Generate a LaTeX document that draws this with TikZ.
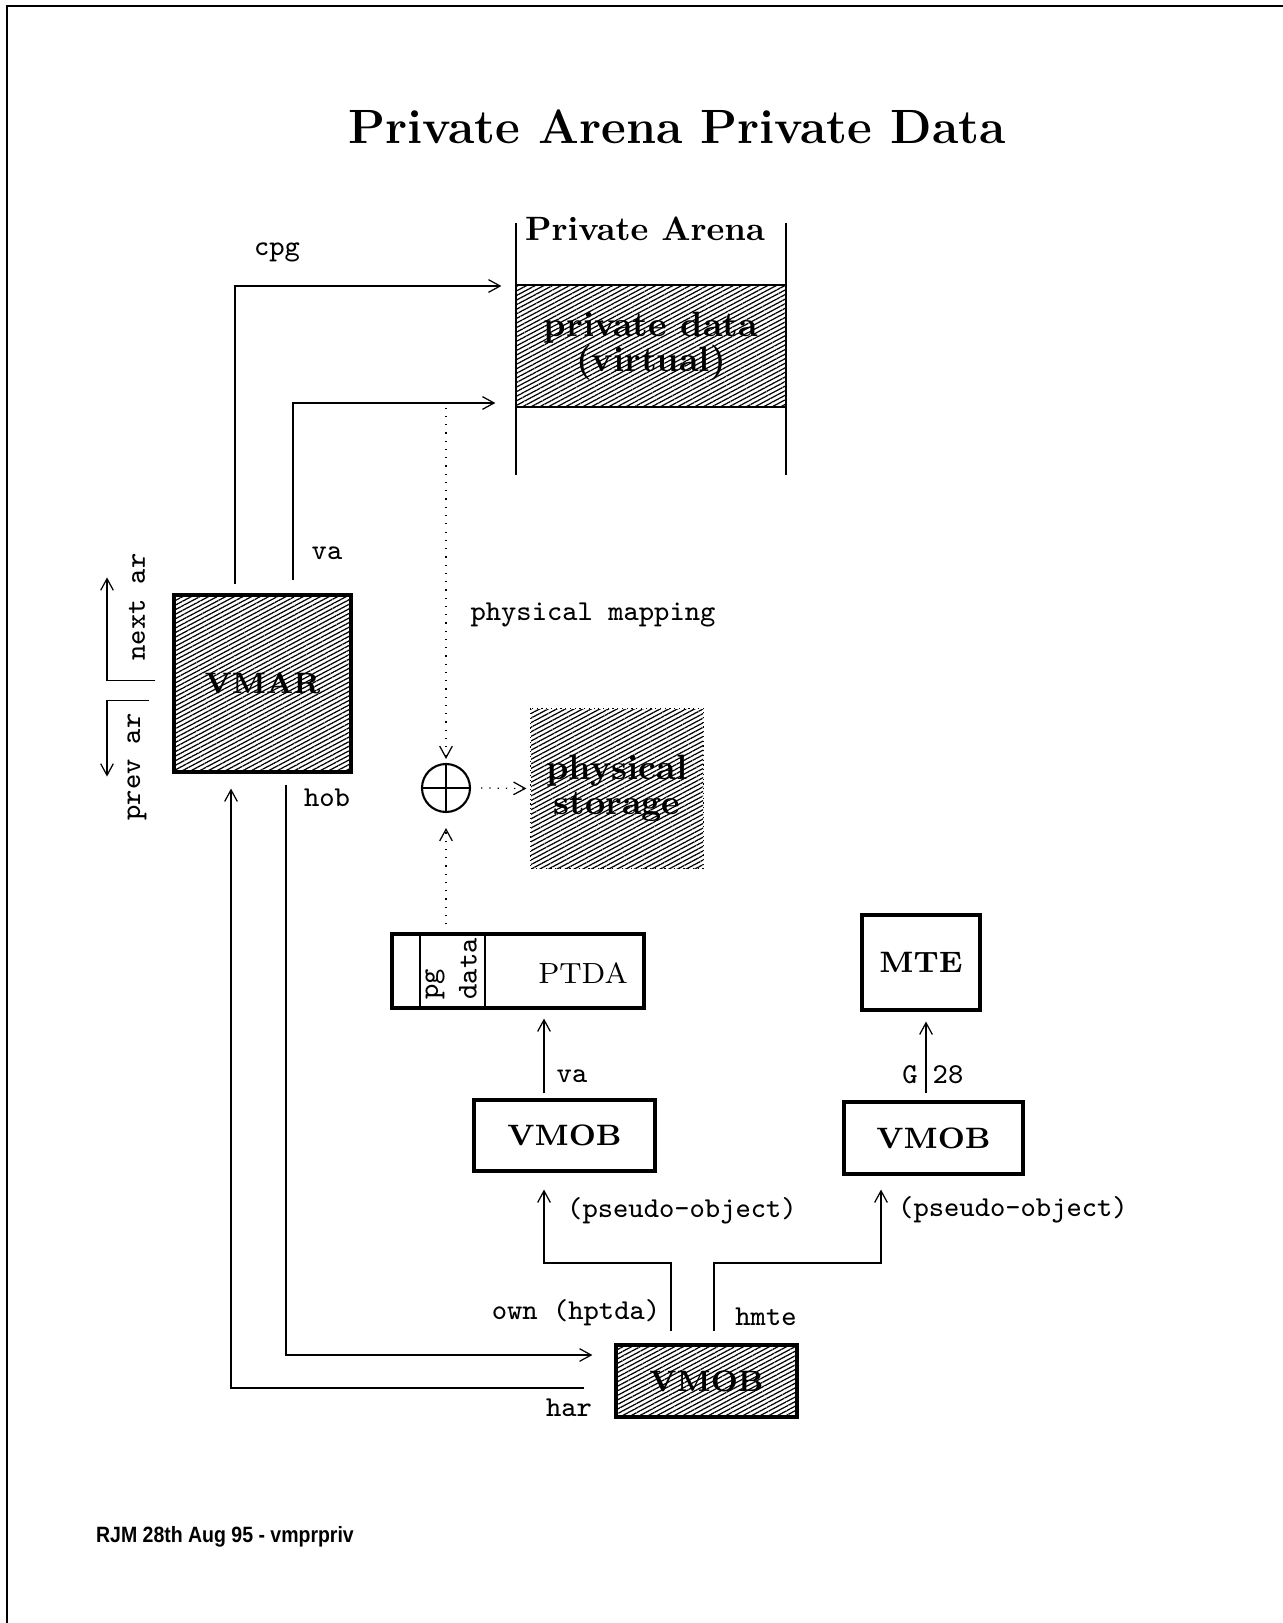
\documentclass[tikz,border=0pt]{standalone}
\usepackage{fontspec}
\newfontfamily\footfont{Liberation Sans}
\usetikzlibrary{arrows.meta,patterns.meta,calc}

\begin{document}
\begin{tikzpicture}[line width=0.35pt,>={Straight Barb[length=3.3pt,width=3.6pt]},
  box/.style={draw,line width=0.9pt,inner sep=0pt,font=\bfseries\fontsize{8.4}{10}\selectfont},
  hatch/.style={pattern={Lines[angle=28,distance=1.15pt,line width=0.35pt]}},
  lbl/.style={font=\ttfamily\fontsize{8.2}{10}\selectfont,inner sep=0pt},
  dots/.style={dotted}]
  \useasboundingbox (0,0) rectangle (12.83,-16.23);
  \draw[line width=0.6pt] (12.83,-0.06) -- (0.07,-0.06) -- (0.07,-16.23);
  \node[font=\bfseries\fontsize{13.7}{16}\selectfont] (title) at (6.77,-1.27) {Private Arena Private Data};
  % arena column
  \draw[line width=0.6pt] (5.16,-2.23) -- (5.16,-4.75) (7.86,-2.23) -- (7.86,-4.75);
  \node[font=\bfseries\fontsize{9.6}{11}\selectfont] (arena) at (6.45,-2.29) {Private Arena};
  \node[hatch,draw,minimum width=2.70cm,minimum height=1.22cm,inner sep=0pt,align=center,
    font=\bfseries\fontsize{10}{10}\selectfont] (band) at (6.51,-3.46) {private data\\(virtual)};
  % boxes
  \node[box,hatch,minimum size=1.77cm] (vmar) at (2.625,-6.835) {VMAR};
  \node[hatch,minimum width=1.72cm,minimum height=1.59cm,inner sep=0pt,align=center,
    font=\bfseries\fontsize{10}{9.8}\selectfont] (phys) at (6.17,-7.885) {physical\\storage};
  \draw[densely dotted] (phys.north west) rectangle (phys.south east);
  \node[draw,circle,minimum size=0.48cm,inner sep=0pt,line width=0.6pt] (oplus) at (4.46,-7.88) {};
  \draw (oplus.north) -- (oplus.south) (oplus.west) -- (oplus.east);
  \node[draw,line width=0.9pt,minimum width=2.52cm,minimum height=0.74cm] (ptda) at (5.18,-9.71) {};
  \node[font=\fontsize{8.3}{10}\selectfont] (ptdaname) at (5.83,-9.73) {PTDA};
  \draw[line width=0.6pt] ([xshift=0.30cm]ptda.north west) -- ([xshift=0.30cm]ptda.south west)
    ([xshift=0.95cm]ptda.north west) -- ([xshift=0.95cm]ptda.south west);
  \node[lbl,rotate=90,anchor=west] (pg) at (4.35,-10.0) {pg};
  \node[lbl,rotate=90,anchor=west] (pgdata) at (4.68,-10.0) {data};
  \node[box,minimum width=1.18cm,minimum height=0.95cm] (mte) at (9.21,-9.625) {MTE};
  \node[box,minimum width=1.79cm,minimum height=0.72cm] (vmobB) at (9.335,-11.38) {VMOB};
  \node[box,minimum width=1.81cm,minimum height=0.71cm] (vmobA) at (5.645,-11.355) {VMOB};
  \node[box,hatch,minimum width=1.81cm,minimum height=0.72cm] (vmobH) at (7.065,-13.81) {VMOB};
  % x positions of the links
  \coordinate (cpgx) at (2.35,-2.86);
  \coordinate (vax) at (2.93,-4.03);
  \coordinate (lnk) at (1.07,-6.91);
  \coordinate (hobx) at (2.86,-13.55);
  \coordinate (harx) at (2.31,-13.88);
  \coordinate (ptx) at (5.44,-10.5);
  \coordinate (gx) at (9.26,-10.5);
  \coordinate (ownx) at (6.71,-12.63);
  \coordinate (hmtex) at (7.14,-12.63);
  \coordinate (psx) at (8.81,-11.88);
  % vmar links
  \draw[->] ([yshift=0.09cm]vmar.north -| cpgx) |- ([xshift=-0.14cm]band.west |- cpgx);
  \draw[->] ([yshift=0.13cm]vmar.north -| vax) |- ([xshift=-0.20cm]band.west |- vax);
  \draw[->] ([xshift=-0.17cm,yshift=0.03cm]vmar.west) -| ([yshift=0.16cm]vmar.north -| lnk);
  \draw[->] ([xshift=-0.23cm,yshift=-0.17cm]vmar.west) -| ([yshift=-0.03cm]vmar.south -| lnk);
  \draw[->] ([yshift=-0.11cm]vmar.south -| hobx) |- ([xshift=-0.22cm]vmobH.west |- hobx);
  \draw[->] ([xshift=-0.30cm]vmobH.west |- harx) -| ([yshift=-0.15cm]vmar.south -| harx);
  \node[lbl] (cpg) at (2.77,-2.52) {cpg};
  \node[lbl] (va) at (3.27,-5.53) {va};
  \node[lbl,rotate=90] (nextar) at (1.37,-6.07) {next ar};
  \node[lbl,rotate=90] (prevar) at (1.37,-7.67) {prev ar};
  \node[lbl] (hob) at (3.27,-7.98) {hob};
  \node[lbl] (har) at (5.69,-14.08) {har};
  % physical mapping
  \draw[dots,->] (band.south -| oplus) -- ([yshift=0.04cm]oplus.north);
  \draw[dots,->] ([yshift=0.08cm]ptda.north -| oplus) -- ([yshift=-0.15cm]oplus.south);
  \draw[dots,->] ([xshift=0.10cm]oplus.east) -- ([xshift=-0.04cm]phys.west);
  \node[lbl] (physmap) at (5.93,-6.15) {physical mapping};
  % vmob links
  \draw[->] ([yshift=0.05cm]vmobA.north -| ptx) -- ([yshift=-0.09cm]ptda.south -| ptx);
  \draw[->] ([yshift=0.07cm]vmobB.north -| gx) -- ([yshift=-0.10cm]mte.south -| gx);
  \draw[->] ([yshift=0.12cm]vmobH.north -| ownx) -- (ownx) -| ([yshift=-0.17cm]vmobA.south -| ptx);
  \draw[->] ([yshift=0.12cm]vmobH.north -| hmtex) -- (hmtex) -| ([yshift=-0.14cm]vmobB.south -| psx);
  \node[lbl] (va2) at (5.72,-10.76) {va};
  \node[lbl] (g) at (9.10,-10.75) {G};
  \node[lbl] (g28) at (9.48,-10.75) {28};
  \node[lbl] (pseudoA) at (6.82,-12.11) {(pseudo-object)};
  \node[lbl] (pseudoB) at (10.13,-12.10) {(pseudo-object)};
  \node[lbl] (own) at (5.76,-13.13) {own (hptda)};
  \node[lbl] (hmte) at (7.66,-13.17) {hmte};
  \node[font=\footfont\bfseries\fontsize{6.3}{8}\selectfont] (stamp) at (2.25,-15.37) {\scalebox{0.88}[1]{RJM 28th Aug 95 - vmprpriv}};
\end{tikzpicture}
\end{document}
